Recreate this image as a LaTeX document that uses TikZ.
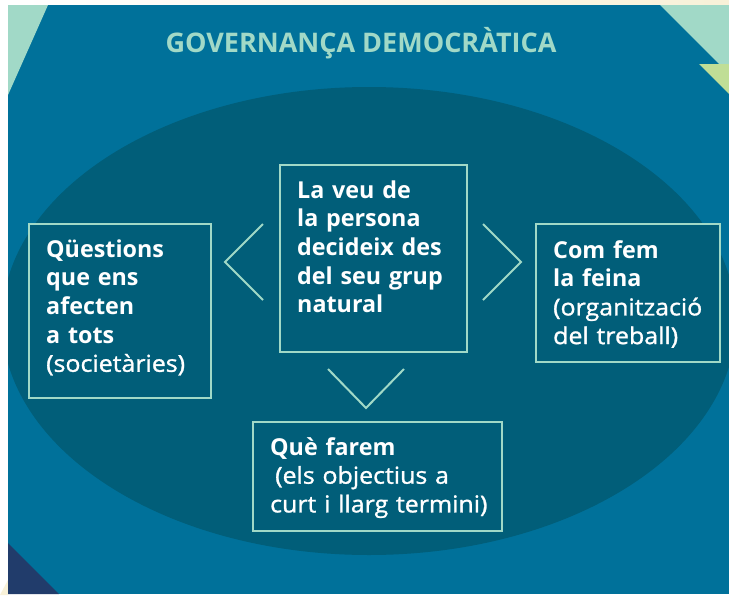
\documentclass[tikz,border=0pt]{standalone}
\usepackage{fontspec}
\setmainfont{Open Sans}
\newfontfamily\osemi{Open Sans}[FakeBold=1.2, FakeStretch=1.07]
\definecolor{bgteal}{HTML}{00719A}
\definecolor{ellfill}{HTML}{015E79}
\definecolor{mint}{HTML}{A1D9C7}
\definecolor{navy}{HTML}{213C6B}
\definecolor{ygreen}{HTML}{C0DE96}
\definecolor{cream}{HTML}{F8F1D8}
\tikzset{
  box/.style={draw=mint, line width=2pt, fill=ellfill, anchor=north west, inner sep=0pt},
  chev/.style={draw=mint, line width=2pt, line cap=butt, line join=miter},
  txt/.style={anchor=base west, inner sep=0pt, text width=240pt, align=left,
    font=\fontsize{23.3}{28.7}\selectfont, text=white},
}
\newcommand{\regl}[1]{{\osemi #1}}
\begin{document}
\begin{tikzpicture}[x=1pt,y=-1pt]
\useasboundingbox (0,0) rectangle (729,595);
% page
\fill[white] (0,0) rectangle (729,595);
\shade[left color=white, right color=cream] (8,0) rectangle (729,5);
\fill[cream] (0,595) -- (8,580) -- (8,595) -- cycle;
% background
\fill[bgteal] (8,5) rectangle (729,594);
\begin{scope}
\clip (8,5) rectangle (729,594);
\fill[ellfill] (369,321) ellipse [x radius=367, y radius=234];
\end{scope}
% corners
\fill[mint] (8,5) -- (48,5) -- (8,95) -- cycle;
\fill[mint] (660,5) -- (729,5) -- (729,64) -- (719,64) -- cycle;
\fill[ygreen] (699,64) -- (729,64) -- (729,94) -- cycle;
\fill[navy] (8,543) -- (59,594) -- (8,594) -- cycle;
% title
\node[anchor=base, inner sep=0pt, text=mint, font=\fontsize{27}{30}\selectfont\bfseries] (title) at (361,52) {GOVERNANÇA DEMOCRÀTICA};
% boxes
\node[box, minimum width=182pt, minimum height=174pt] (lbox) at (28,223) {};
\node[box, minimum width=187pt, minimum height=187pt] (cbox) at (279,164) {};
\node[box, minimum width=184pt, minimum height=138pt] (rbox) at (535,223) {};
\node[box, minimum width=249pt, minimum height=109pt] (bbox) at (252,421) {};
% chevrons
\draw[chev] (263,224) -- (225,262) -- (263,300);
\draw[chev] (483,224) -- (521,262) -- (483,300);
\draw[chev] (328,369) -- (366,408) -- (404,369);
% texts
\node[txt] (ltxt) at (46,257) {\textbf{Qüestions}\\\textbf{que ens}\\\textbf{afecten}\\\textbf{a tots}\\\regl{(societàries)}};
\node[txt] (ctxt) at (297,198) {\textbf{La veu de}\\\textbf{la persona}\\\textbf{decideix des}\\\textbf{del seu grup}\\\textbf{natural}};
\node[txt] (rtxt) at (553,258) {\textbf{Com fem}\\\textbf{la feina}\\\regl{(organització}\\\regl{del treball)}};
\node[txt] (btxt) at (270,455) {\textbf{Què farem}\\\regl{\hspace*{5pt}(els objectius a}\\\regl{curt i llarg termini)}};
\end{tikzpicture}
\end{document}
